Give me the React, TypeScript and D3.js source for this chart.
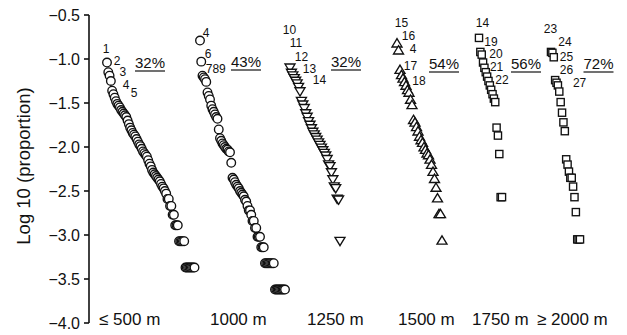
import React from 'react';
import * as d3 from 'd3';

// log10(proportion) of each species, ranked, per elevation band
const groupNames = ['≤ 500 m', '1000 m', '1250 m', '1500 m', '1750 m', '≥ 2000 m'];
const shapes = ['circle', 'circle', 'down', 'up', 'square', 'square'];
const shares = ['32%', '43%', '32%', '54%', '56%', '72%'];

const g500 = [
  -1.04, -1.15, -1.19, -1.25, -1.36, -1.40, -1.44, -1.48, -1.51, -1.53, -1.55, -1.58, -1.60, -1.62,
  -1.64, -1.66, -1.70, -1.74, -1.78, -1.81, -1.84, -1.86, -1.88, -1.91, -1.94, -1.97, -1.99, -2.02,
  -2.05, -2.07, -2.09, -2.11, -2.15, -2.19, -2.22, -2.26, -2.29, -2.31, -2.33, -2.35, -2.37, -2.39,
  -2.42, -2.45, -2.47, -2.50, -2.53, -2.59, -2.59, -2.67, -2.67, -2.77, -2.77, -2.89, -2.89, -2.89,
  -3.07, -3.07, -3.07, -3.07, -3.07, -3.37, -3.37, -3.37, -3.37, -3.37, -3.37, -3.37, -3.37,
];
const g1000 = [
  -0.79, -1.03, -1.19, -1.21, -1.23, -1.26, -1.38, -1.42, -1.46, -1.53, -1.57, -1.60, -1.63, -1.66,
  -1.68, -1.80, -1.90, -1.93, -1.96, -1.98, -2.00, -2.02, -2.03, -2.05, -2.06, -2.18, -2.35, -2.37,
  -2.40, -2.43, -2.45, -2.47, -2.50, -2.52, -2.54, -2.56, -2.60, -2.62, -2.67, -2.72, -2.72, -2.77,
  -2.84, -2.84, -2.92, -2.92, -3.02, -3.02, -3.02, -3.14, -3.14, -3.14, -3.32, -3.32, -3.32, -3.32,
  -3.32, -3.32, -3.32, -3.32, -3.62, -3.62, -3.62, -3.62, -3.62, -3.62, -3.62, -3.62, -3.62,
];
const g1250 = [
  -1.10, -1.16, -1.19, -1.22, -1.25, -1.28, -1.32, -1.37, -1.48, -1.52, -1.56, -1.62, -1.66, -1.71,
  -1.75, -1.79, -1.83, -1.86, -1.89, -1.92, -1.95, -1.98, -2.01, -2.04, -2.07, -2.10, -2.14, -2.20,
  -2.22, -2.29, -2.37, -2.45, -2.47, -2.59, -2.60, -3.07,
];
const g1500 = [
  -0.82, -0.90, -1.12, -1.18, -1.22, -1.26, -1.30, -1.35, -1.38, -1.46, -1.52, -1.69, -1.72, -1.77,
  -1.82, -1.88, -1.92, -1.95, -2.00, -2.03, -2.07, -2.09, -2.14, -2.20, -2.28, -2.36, -2.46, -2.58,
  -2.76, -2.76, -3.06,
];
const g1750 = [
  -0.76, -0.92, -0.95, -1.04, -1.10, -1.15, -1.20, -1.25, -1.30, -1.35, -1.40, -1.45, -1.49, -1.78,
  -1.87, -2.08, -2.57, -2.57,
];
const g2000 = [
  -0.92, -0.93, -0.98, -1.24, -1.27, -1.30, -1.37, -1.49, -1.61, -1.72, -1.82, -2.14, -2.20, -2.28,
  -2.35, -2.35, -2.45, -2.57, -2.74, -3.05, -3.05, -3.05,
];
const groups = [g500, g1000, g1250, g1500, g1750, g2000];

// species number labels: [group, text, rank position, log value at baseline]
const rankLabels: [number, string, number, number][] = [
  [0, '1', -0.8, -0.93], [0, '2', 7.8, -1.07], [0, '3', 12.4, -1.19], [0, '4', 14.8, -1.34], [0, '5', 21, -1.43],
  [1, '4', 4.8, -0.75], [1, '6', 6.4, -0.99], [1, '789', 12.6, -1.16],
  [2, '10', -0.35, -0.72], [2, '11', 4.2, -0.86], [2, '12', 8.0, -1.02], [2, '13', 13.6, -1.16], [2, '14', 20.6, -1.28],
  [3, '15', 3.0, -0.64], [3, '16', 7.7, -0.78], [3, '4', 10.7, -0.93], [3, '17', 9.0, -1.13], [3, '18', 14.7, -1.30],
  [4, '14', 2.6, -0.64], [4, '19', 8.9, -0.85], [4, '20', 12.6, -0.99], [4, '21', 13.0, -1.14], [4, '22', 17.0, -1.28],
  [5, '23', -0.4, -0.70], [5, '24', 10.1, -0.85], [5, '25', 11.2, -1.02], [5, '26', 11.2, -1.17], [5, '27', 20.7, -1.32],
];

const W = 627;
const H = 335;
// horizontal extent (px) of each group's ranked points
const spans: [number, number][] = [[107, 194.5], [200, 285], [290, 340], [397, 442], [479, 502], [551, 580]];

const y = d3.scaleLinear().domain([-4, -0.5]).range([323, 15]);
const font = '"Liberation Sans", Arial, sans-serif';

function Mark({ shape, x, yy }: { shape: string; x: number; yy: number }) {
  const common = { fill: '#fff', stroke: '#111', strokeWidth: 1.35 };
  if (shape === 'circle') return <circle cx={x} cy={yy} r={4.3} {...common} />;
  if (shape === 'square') return <rect x={x - 3.6} y={yy - 3.6} width={7.2} height={7.2} {...common} />;
  if (shape === 'up') return <path d={`M${x},${yy - 4.5}L${x + 5},${yy + 3.8}L${x - 5},${yy + 3.8}Z`} {...common} />;
  return <path d={`M${x},${yy + 4.5}L${x + 5},${yy - 3.8}L${x - 5},${yy - 3.8}Z`} {...common} />;
}

export default function App() {
  const xs = groups.map((g, i) => d3.scaleLinear().domain([0, g.length - 1]).range(spans[i]));
  const ticks = d3.range(-4, -0.49, 0.5);
  const fmt = d3.format('.1f');
  return (
    <svg width={W} height={H} style={{ position: 'absolute', left: 0, top: 0, background: '#fff' }} fontFamily={font}>
      {/* axis */}
      <line x1={89} x2={89} y1={y(-0.5)} y2={y(-4)} stroke="#111" strokeWidth={1.6} />
      {ticks.map((t) => (
        <g key={t}>
          <line x1={84} x2={89} y1={y(t)} y2={y(t)} stroke="#111" strokeWidth={1.6} />
          <text x={80} y={y(t)} dy="0.35em" textAnchor="end" fontSize={16} fill="#111">
            {fmt(t)}
          </text>
        </g>
      ))}
      <text transform={`translate(24,${166}) rotate(-90)`} textAnchor="middle" dy="0.35em" fontSize={18.5} fill="#111">
        Log 10 (proportion)
      </text>

      {/* ranked points */}
      {groups.map((g, gi) => (
        <g key={gi}>
          {g.map((v, i) => (
            <Mark key={i} shape={shapes[gi]} x={xs[gi](i)} yy={y(v)} />
          ))}
        </g>
      ))}

      {rankLabels.map(([gi, t, r, v], i) => (
        <text key={i} x={xs[gi](r)} y={y(v)} textAnchor="middle" fontSize={12} fill="#111">
          {t}
        </text>
      ))}

      {/* percentage labels */}
      {shares.map((s, i) => {
        const cx = [150, 246, 346, 444, 526, 598.5][i];
        const by = [68, 67, 67, 69, 69, 69][i];
        return (
          <g key={i}>
            <text x={cx} y={by} textAnchor="middle" fontSize={15} fill="#111">
              {s}
            </text>
            <line x1={cx - 15} x2={cx + 15} y1={by + 3} y2={by + 3} stroke="#111" strokeWidth={1.2} />
          </g>
        );
      })}

      {groupNames.map((n, i) => (
        <text key={n} x={[99, 210, 307, 398, 472, 537][i]} y={325} fontSize={17} fill="#111">
          {n}
        </text>
      ))}
    </svg>
  );
}
